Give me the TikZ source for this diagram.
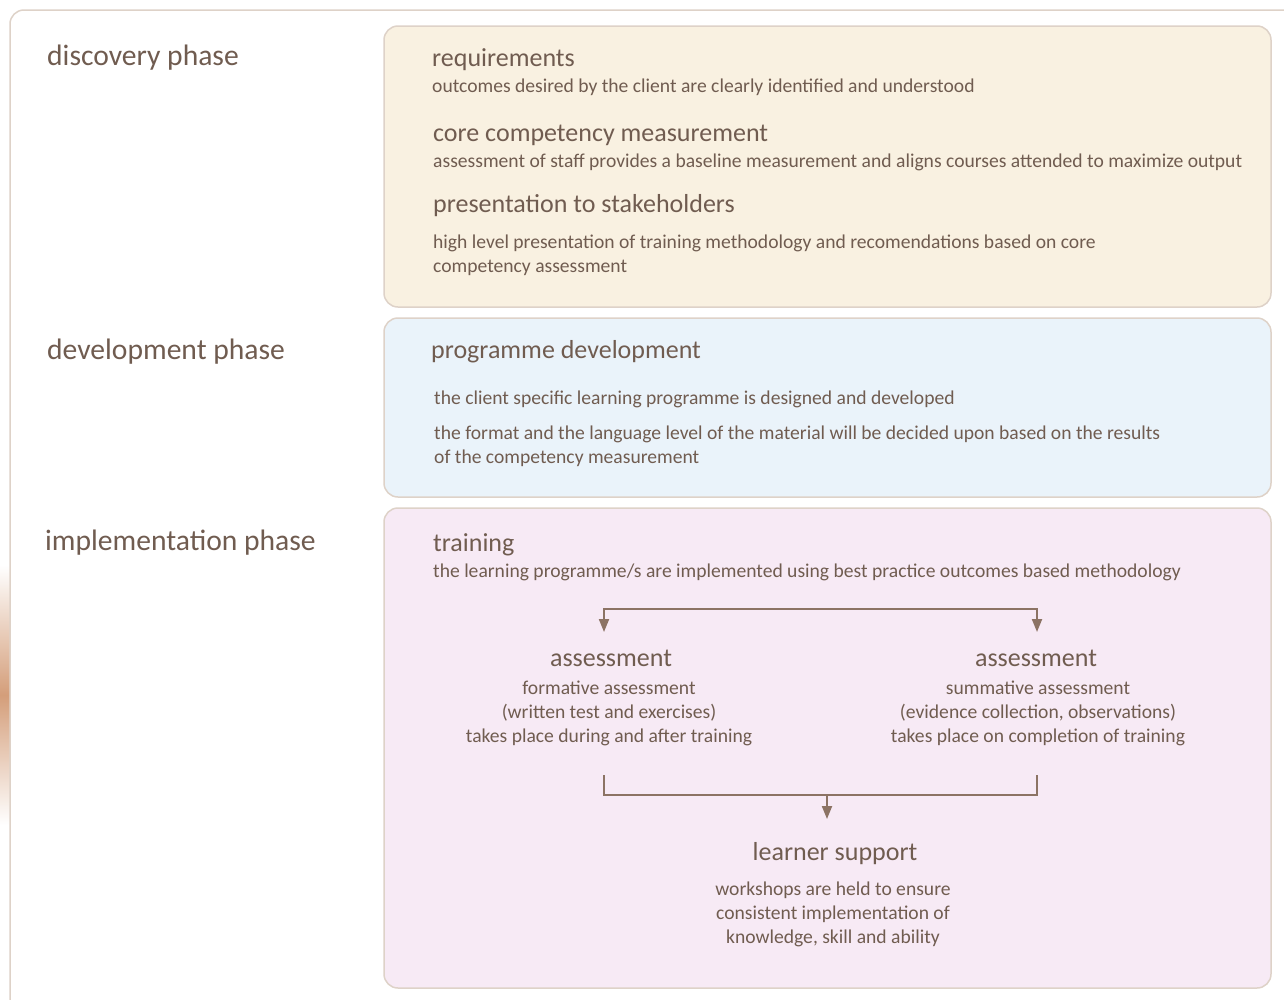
\documentclass[tikz,border=0pt]{standalone}
\usepackage{fontspec}
\setmainfont{Carlito}
\usepackage{tikz}
\usetikzlibrary{arrows.meta, positioning, shapes.geometric}

\definecolor{ink}{RGB}{112,92,80}
\definecolor{wire}{RGB}{140,115,100}
\definecolor{rim}{RGB}{222,210,200}
\definecolor{sand}{RGB}{249,241,225}
\definecolor{sky}{RGB}{234,243,250}
\definecolor{rose}{RGB}{247,234,245}
\definecolor{glow}{RGB}{212,158,122}

\tikzstyle{panel} = [draw=rim, line width=1.5pt, rounded corners=14pt]
\tikzstyle{phase} = [anchor=west, inner sep=0pt, text=ink, font=\fontsize{29.6}{34}\selectfont]
\tikzstyle{head} = [anchor=west, inner sep=0pt, text=ink, font=\fontsize{26}{30}\selectfont]
\tikzstyle{body} = [anchor=west, inner sep=0pt, text=ink, align=left, font=\fontsize{19.6}{24}\selectfont]
\tikzstyle{chead} = [inner sep=0pt, text=ink, font=\fontsize{26}{30}\selectfont]
\tikzstyle{cbody} = [inner sep=0pt, text=ink, align=center, font=\fontsize{19.6}{24}\selectfont]
\tikzstyle{link} = [draw=wire, line width=2pt]
\tikzstyle{arr} = [link, -{Triangle[width=10pt,length=13pt]}]

\begin{document}
\begin{tikzpicture}[x=1pt, y=-1pt]
    \useasboundingbox (0,0) rectangle (1284,999);
    \fill[white] (0,0) rectangle (1284,999);

    % glow at the left edge
    \begin{scope}
        \clip (0,0) rectangle (10,999);
        \shade[top color=white, bottom color=white, middle color=glow] (-10,565) rectangle (10,825);
    \end{scope}

    % outer frame
    \draw[panel] (10,10) rectangle (1310,1020);

    % phase panels
    \draw[panel, fill=sand] (384,26) rectangle (1271,307);
    \draw[panel, fill=sky] (384,318) rectangle (1271,497);
    \draw[panel, fill=rose] (384,508) rectangle (1271,988);

    % phase names
    \node[phase] (discovery) at (47,58) {discovery phase};
    \node[phase] (development) at (47,352) {development phase};
    \node[phase] (implementation) at (45,543) {implementation phase};

    % discovery
    \node[head] (req) at (432,60) {requirements};
    \node[body] (reqtxt) at (432,87) {outcomes desired by the client are clearly identified and understood};
    \node[head] (core) at (433,135) {core competency measurement};
    \node[body] (coretxt) at (433,162) {assessment of staff provides a baseline measurement and aligns courses attended to maximize output};
    \node[head] (pres) at (433,206) {presentation to stakeholders};
    \node[body] (prestxt) at (433,255) {high level presentation of training methodology and recomendations based on core\\competency assessment};

    % development
    \node[head] (prog) at (431,352) {programme development};
    \node[body] (progtxt) at (434,399) {the client specific learning programme is designed and developed};
    \node[body] (fmttxt) at (434,446) {the format and the language level of the material will be decided upon based on the results\\of the competency measurement};

    % implementation
    \node[head] (train) at (433,545) {training};
    \node[body] (traintxt) at (433,572) {the learning programme/s are implemented using best practice outcomes based methodology};

    \node[chead] (formal) at (611,658) {assessment};
    \node[cbody] (formtxt) at (609,713) {formative assessment\\(written test and exercises)\\takes place during and after training};
    \node[chead] (summal) at (1036,658) {assessment};
    \node[cbody] (sumtxt) at (1038,713) {summative assessment\\(evidence collection, observations)\\takes place on completion of training};

    \node[chead] (learn) at (835,854) {learner support};
    \node[cbody] (learntxt) at (833,914) {workshops are held to ensure\\consistent implementation of\\knowledge, skill and ability};

    % connectors
    \coordinate (forkL) at (604,632);
    \coordinate (forkR) at (1037,632);
    \coordinate (forkbar) at (1037,609);
    \draw[link, {Triangle[width=10pt,length=13pt]}-{Triangle[width=10pt,length=13pt]}] (forkL) |- (forkbar) -- (forkR);

    \coordinate (joinL) at (604,775);
    \coordinate (joinR) at (1037,775);
    \coordinate (joinbar) at (604,795);
    \coordinate (joinmid) at (827,795);
    \coordinate (joinend) at (827,819);
    \draw[link] (joinL) -- (joinbar) -| (joinR);
    \draw[arr] (joinmid) -- (joinend);

\end{tikzpicture}
\end{document}
